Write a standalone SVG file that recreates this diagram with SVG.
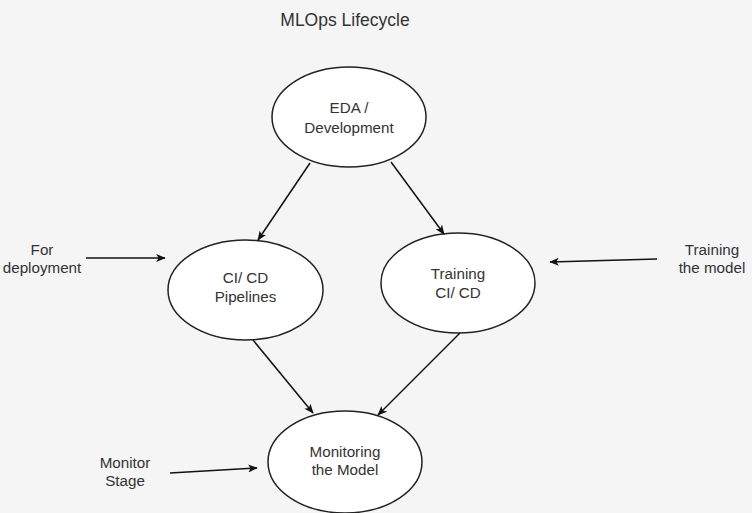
<svg xmlns="http://www.w3.org/2000/svg" width="752" height="513" viewBox="0 0 752 513">
<style>
.bg{fill:#f5f5f5}
.node ellipse{fill:#ffffff;stroke:#222;stroke-width:1.5}
text{font-family:"Liberation Sans",Arial,sans-serif;font-size:15.2px;fill:#333;text-anchor:middle}
.title{font-size:17.5px}
.edge{stroke:#111;stroke-width:1.5;fill:none;marker-end:url(#arr)}
</style>
<defs>
<marker id="arr" viewBox="0 0 12 10" refX="11" refY="5" markerWidth="10" markerHeight="8" markerUnits="userSpaceOnUse" orient="auto">
<path d="M0,0 L12,5 L0,10 L3,5 Z" fill="#111"/>
</marker>
</defs>
<rect class="bg" x="0" y="0" width="752" height="513"/>
<text class="title" x="345" y="26">MLOps Lifecycle</text>
<g id="eda" class="node">
<ellipse cx="349" cy="117" rx="77" ry="50"/>
<text x="349" y="113">EDA /</text>
<text x="349" y="133">Development</text>
</g>
<g id="cicd" class="node">
<ellipse cx="245.5" cy="290" rx="77.5" ry="50"/>
<text x="245.5" y="283">CI/ CD</text>
<text x="245.5" y="302">Pipelines</text>
</g>
<g id="training" class="node">
<ellipse cx="458" cy="283" rx="77" ry="50"/>
<text x="458" y="279">Training</text>
<text x="458" y="298">CI/ CD</text>
</g>
<g id="monitoring" class="node">
<ellipse cx="345" cy="462" rx="77" ry="51"/>
<text x="345" y="457">Monitoring</text>
<text x="345" y="475">the Model</text>
</g>
<g id="label-deploy">
<text x="42" y="255">For</text>
<text x="42" y="273">deployment</text>
</g>
<g id="label-train">
<text x="712" y="255">Training</text>
<text x="712" y="273">the model</text>
</g>
<g id="label-monitor">
<text x="125" y="468">Monitor</text>
<text x="125" y="486">Stage</text>
</g>
<g id="connectors">
<line class="edge" x1="310" y1="163" x2="258" y2="240"/>
<line class="edge" x1="391" y1="162" x2="444" y2="234"/>
<line class="edge" x1="253" y1="340" x2="313" y2="413"/>
<line class="edge" x1="460" y1="333" x2="378" y2="415"/>
<line class="edge" x1="86" y1="258" x2="165" y2="258"/>
<line class="edge" x1="657" y1="259" x2="550" y2="262"/>
<line class="edge" x1="170" y1="473" x2="257" y2="468"/>
</g>
</svg>
